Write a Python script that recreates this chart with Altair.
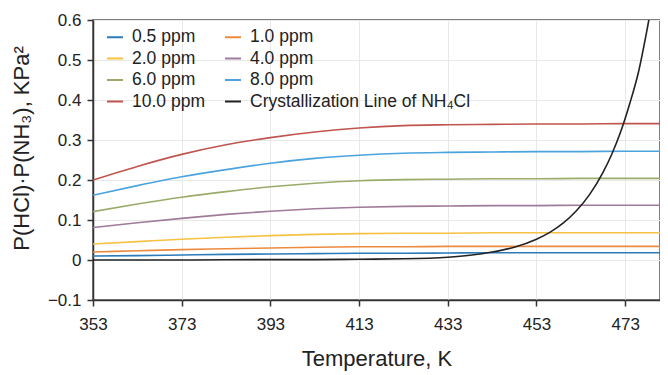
import altair as alt
import pandas as pd

# ---- data ----
temps = [353, 363, 373, 383, 393, 403, 413, 423, 433, 443, 453, 463, 473, 483]
ppm_05 = [0.010, 0.011, 0.0125, 0.014, 0.015, 0.016, 0.017, 0.017, 0.0175, 0.018, 0.018, 0.018, 0.018, 0.018]
ppm_10 = [0.020, 0.023, 0.026, 0.028, 0.030, 0.032, 0.033, 0.033, 0.034, 0.034, 0.034, 0.034, 0.034, 0.034]
ppm_20 = [0.040, 0.046, 0.052, 0.057, 0.061, 0.064, 0.066, 0.067, 0.067, 0.068, 0.068, 0.068, 0.068, 0.068]
ppm_40 = [0.081, 0.093, 0.104, 0.114, 0.122, 0.128, 0.132, 0.134, 0.135, 0.136, 0.136, 0.137, 0.137, 0.137]
ppm_60 = [0.121, 0.140, 0.157, 0.171, 0.183, 0.192, 0.198, 0.201, 0.202, 0.203, 0.203, 0.204, 0.204, 0.204]
ppm_80 = [0.162, 0.186, 0.208, 0.226, 0.242, 0.254, 0.262, 0.267, 0.269, 0.270, 0.271, 0.271, 0.272, 0.272]
ppm_100 = [0.200, 0.234, 0.264, 0.288, 0.306, 0.320, 0.330, 0.336, 0.338, 0.339, 0.340, 0.340, 0.341, 0.341]

cryst_t = [353, 373, 393, 403, 413, 423, 433, 438, 443, 448, 453, 456, 459, 462, 465, 468, 470, 472, 474, 476, 478, 479]
cryst_v = [0.000, 0.000, 0.001, 0.001, 0.002, 0.003, 0.007, 0.012, 0.020, 0.032, 0.052, 0.069, 0.092, 0.123,
           0.164, 0.219, 0.265, 0.321, 0.390, 0.470, 0.580, 0.640]

series_names = ["0.5 ppm", "1.0 ppm", "2.0 ppm", "4.0 ppm", "6.0 ppm", "8.0 ppm", "10.0 ppm",
                "Crystallization Line of NH\u2084Cl"]
series_colors = ["#2b7bba", "#ee8a3e", "#f5c242", "#a07a9a", "#9aab6a", "#4ba3de", "#c0544f", "#222222"]

# legend is filled column by column, so list entries in that order to read row-wise
legend_order = [0, 2, 4, 6, 1, 3, 5, 7]

x_ticks = [353, 373, 393, 413, 433, 453, 473]
y_ticks = [-0.1, 0, 0.1, 0.2, 0.3, 0.4, 0.5, 0.6]

rows = []
for name, vals in zip(series_names[:7], [ppm_05, ppm_10, ppm_20, ppm_40, ppm_60, ppm_80, ppm_100]):
    for t, v in zip(temps, vals):
        rows.append({"T": t, "v": v, "series": name})
for t, v in zip(cryst_t, cryst_v):
    rows.append({"T": t, "v": v, "series": series_names[7]})
df = pd.DataFrame(rows)

dom = [series_names[i] for i in legend_order]
rng = [series_colors[i] for i in legend_order]

font = "Liberation Sans"

chart = alt.Chart(df).mark_line(strokeWidth=1.6, interpolate="monotone", clip=True).encode(
    x=alt.X("T:Q",
            scale=alt.Scale(domain=[353, 480.85], nice=False, zero=False),
            axis=alt.Axis(values=x_ticks, title="Temperature, K", format="d", labelFlush=False,
                          labelPadding=10, titleY=65, titleBaseline="alphabetic")),
    y=alt.Y("v:Q",
            scale=alt.Scale(domain=[-0.1, 0.6], nice=False),
            axis=alt.Axis(values=y_ticks, title="P(HCl)\u00b7P(NH\u2083), KPa\u00b2",
                          labelExpr="datum.value == 0 ? '0' : format(datum.value, '.1f')",
                          labelFlush=False, labelPadding=6,
                          titleX=-72, titleY=128, titleBaseline="middle", titleAngle=270)),
    color=alt.Color("series:N",
                    scale=alt.Scale(domain=dom, range=rng),
                    legend=alt.Legend(title=None, orient="none", legendX=13, legendY=8,
                                      columns=2, symbolType="stroke", symbolSize=256,
                                      symbolStrokeWidth=2, labelFontSize=17.5, labelFont=font,
                                      labelColor="#222", labelOffset=8, columnPadding=16,
                                      rowPadding=3.5, padding=0, labelLimit=500)),
    detail="series:N",
).properties(
    width=567, height=280,
    autosize=alt.AutoSizeParams(type="none"),
    padding={"left": 85, "top": 12, "right": 0, "bottom": 72},
).configure_axis(
    labelFont=font, labelFontSize=17, labelColor="#222",
    titleFont=font, titleFontSize=22, titleFontWeight="normal", titleColor="#222",
    domainColor="#333", domainWidth=1.5, tickColor="#333", tickSize=6, tickWidth=1.5,
    gridColor="#e8e8e8", gridWidth=1,
).configure_view(
    stroke="#555", strokeWidth=1.5,
)

chart.save("out.html", embed_options={"renderer": "svg", "actions": False})
